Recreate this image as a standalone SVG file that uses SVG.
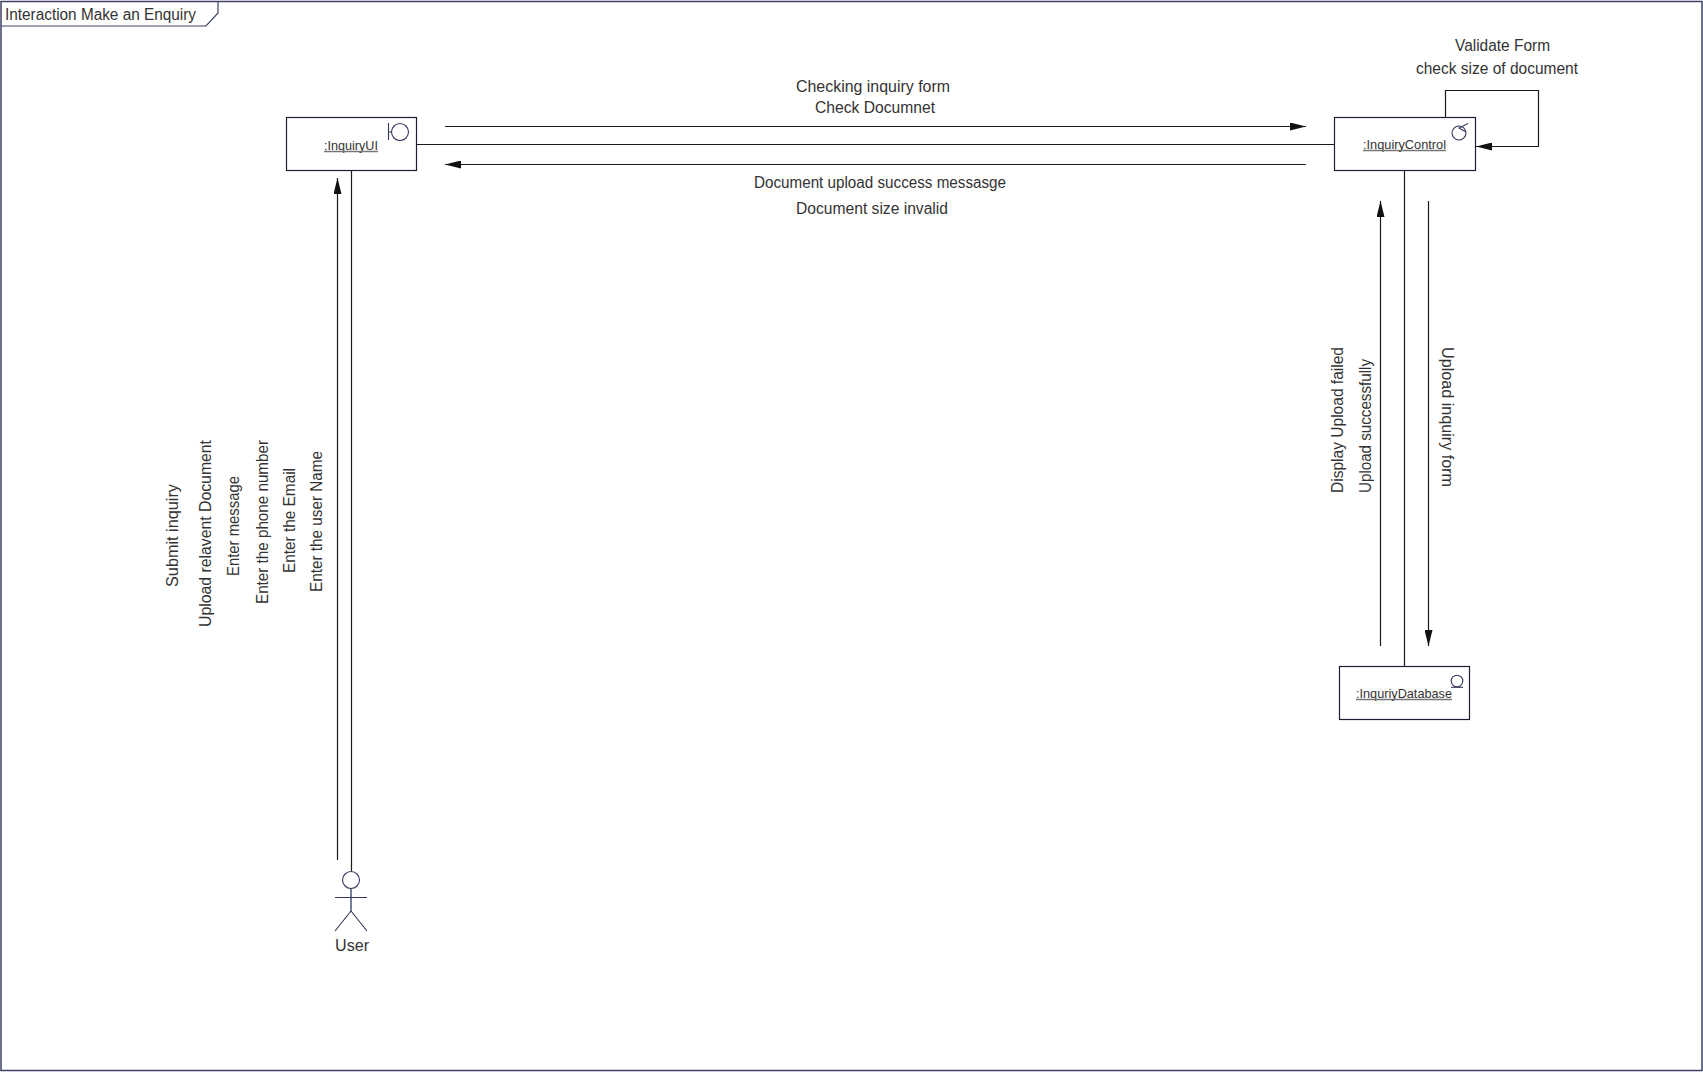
<svg xmlns="http://www.w3.org/2000/svg" width="1703" height="1072" viewBox="0 0 1703 1072">
<defs>
<marker id="arrow" markerUnits="userSpaceOnUse" markerWidth="16" markerHeight="8" refX="16" refY="4" orient="auto"><path d="M0 0L16 4L0 8Z" fill="#111"/></marker>
</defs>
<style>
text{font-family:"Liberation Sans",Arial,sans-serif;font-size:16px;fill:#333}
.n{font-size:13px}
.node{fill:#fff;stroke:#1c1f33;stroke-width:1.2}
.ic{fill:none;stroke:#34385a;stroke-width:1.1}
.c{fill:none;stroke:#1a1a1a;stroke-width:1.2}
.u{stroke:#777;stroke-width:1.4}
</style>
<rect width="1703" height="1072" fill="#fff"/>
<g id="frame">
<rect x="1" y="1.500" width="1701" height="1069" fill="none" stroke="#3d4266" stroke-width="1.500"/>
<path d="M1 26H206L218 13V1" fill="none" stroke="#3d4266" stroke-width="1.200"/>
<text x="5" y="20" textLength="191" lengthAdjust="spacingAndGlyphs">Interaction Make an Enquiry</text>
</g>
<g id="connectors">
<path class="c" d="M416.500 144.500H1334.500"/>
<path class="c" d="M445 126.500H1306" marker-end="url(#arrow)"/>
<path class="c" d="M1306 164.500H445" marker-end="url(#arrow)"/>
<path class="c" d="M351.500 170.500V871"/>
<path class="c" d="M337.500 860V178" marker-end="url(#arrow)"/>
<path class="c" d="M1404.500 170.500V666.500"/>
<path class="c" d="M1380.500 646V201" marker-end="url(#arrow)"/>
<path class="c" d="M1428.500 201V646" marker-end="url(#arrow)"/>
<path class="c" d="M1445.500 117.500V90.500H1538.500V146.500H1476" marker-end="url(#arrow)"/>
</g>
<g id="InquiryUI">
<rect class="node" x="286.500" y="117.500" width="130" height="53"/>
<path class="ic" d="M388.500 123V140M388.500 132H392"/>
<circle class="ic" cx="400" cy="132" r="8.500"/>
<text class="n" x="324" y="150" textLength="54" lengthAdjust="spacingAndGlyphs">:InquiryUI</text>
<path class="u" d="M324 151.500H378"/>
</g>
<g id="InquiryControl">
<rect class="node" x="1334.500" y="117.500" width="141" height="53"/>
<circle class="ic" cx="1459" cy="133" r="7"/>
<path class="ic" d="M1468 123.500L1459 128L1466 132"/>
<text class="n" x="1363" y="149" textLength="83" lengthAdjust="spacingAndGlyphs">:InquiryControl</text>
<path class="u" d="M1363 150.500H1446"/>
</g>
<g id="InquiryDatabase">
<rect class="node" x="1339.500" y="666.500" width="130" height="53"/>
<circle class="ic" cx="1457" cy="681" r="5.800"/>
<path class="ic" d="M1451 687.300H1463"/>
<text class="n" x="1356" y="698" textLength="96" lengthAdjust="spacingAndGlyphs">:InquriyDatabase</text>
<path class="u" d="M1356 699.500H1452"/>
</g>
<g id="User">
<circle class="ic" cx="351" cy="880" r="8.500"/>
<path d="M351 889V911" fill="none" stroke="#6b7090" stroke-width="1.800"/>
<path class="ic" d="M335 897.500H367M351 911L335 931M351 911L367 931"/>
<text x="335" y="951" textLength="34" lengthAdjust="spacingAndGlyphs">User</text>
</g>
<g id="labels">
<text x="796" y="92" textLength="154" lengthAdjust="spacingAndGlyphs">Checking inquiry form</text>
<text x="815" y="113" textLength="120" lengthAdjust="spacingAndGlyphs">Check Documnet</text>
<text x="754" y="188" textLength="252" lengthAdjust="spacingAndGlyphs">Document upload success messasge</text>
<text x="796" y="214" textLength="152" lengthAdjust="spacingAndGlyphs">Document size invalid</text>
<text x="1455" y="51" textLength="95" lengthAdjust="spacingAndGlyphs">Validate Form</text>
<text x="1416" y="74" textLength="162" lengthAdjust="spacingAndGlyphs">check size of document</text>
<text transform="translate(178 587) rotate(-90)" textLength="103" lengthAdjust="spacingAndGlyphs">Submit inquiry</text>
<text transform="translate(211 627) rotate(-90)" textLength="187" lengthAdjust="spacingAndGlyphs">Upload relavent Document</text>
<text transform="translate(239 576) rotate(-90)" textLength="100" lengthAdjust="spacingAndGlyphs">Enter message</text>
<text transform="translate(268 604) rotate(-90)" textLength="164" lengthAdjust="spacingAndGlyphs">Enter the phone number</text>
<text transform="translate(295 573) rotate(-90)" textLength="105" lengthAdjust="spacingAndGlyphs">Enter the Email</text>
<text transform="translate(322 592) rotate(-90)" textLength="141" lengthAdjust="spacingAndGlyphs">Enter the user Name</text>
<text transform="translate(1343 493) rotate(-90)" textLength="146" lengthAdjust="spacingAndGlyphs">Display Upload failed</text>
<text transform="translate(1371 493) rotate(-90)" textLength="134" lengthAdjust="spacingAndGlyphs">Upload successfully</text>
<text transform="translate(1442 347) rotate(90)" textLength="140" lengthAdjust="spacingAndGlyphs">Upload inquiry form</text>
</g>
</svg>
